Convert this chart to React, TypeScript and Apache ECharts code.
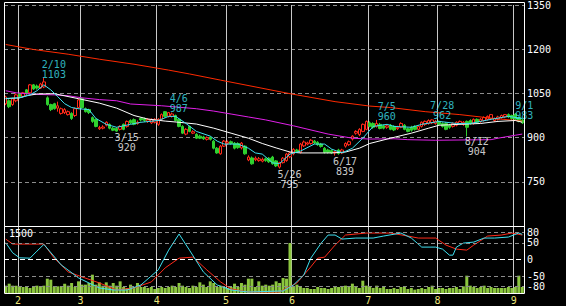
import React, { useEffect, useRef } from 'react';
import * as echarts from 'echarts';

// ---- categories: trading days per month ----
const monthLabels = ['1', '2', '3', '4', '5', '6', '7', '8', '9'];
const monthDays = [4, 18, 22, 20, 19, 22, 20, 22, 3];

// ---- daily prices ----
const opens = [
  1015, 1025, 1012, 1025, 1049, 1040, 1062, 1052, 1079, 1075,
  1068, 1072, 1035, 1012, 1015, 1000, 982, 985, 978, 982,
  975, 1002, 1032, 998, 995, 968, 962, 930, 932, 942,
  945, 932, 931, 928, 945, 938, 958, 961, 948, 965,
  964, 956, 950, 952, 945, 962, 988, 972, 972, 975,
  962, 938, 912, 938, 915, 911, 905, 902, 894, 900,
  888, 864, 845, 871, 880, 886, 881, 880, 865, 871,
  824, 831, 825, 822, 820, 828, 830, 834, 821, 800,
  815, 822, 835, 845, 858, 850, 872, 878, 880, 888,
  884, 878, 864, 858, 856, 848, 858, 848, 871, 876,
  895, 915, 910, 921, 928, 950, 948, 938, 945, 940,
  935, 942, 938, 930, 935, 942, 930, 935, 938, 928,
  938, 945, 948, 950, 948, 955, 948, 948, 942, 938,
  942, 948, 945, 955, 958, 948, 962, 955, 958, 962,
  965, 958, 962, 968, 970, 978, 975, 980, 968, 960,
];
const closes = [
  1038, 1005, 1032, 1045, 1039, 1052, 1049, 1079, 1065, 1068,
  1082, 1089, 1012, 995, 998, 1008, 998, 995, 988, 965,
  998, 1028, 1002, 988, 985, 955, 938, 934, 936, 952,
  932, 925, 922, 938, 928, 955, 950, 945, 952, 960,
  958, 962, 962, 962, 962, 978, 972, 985, 980, 958,
  938, 915, 928, 921, 920, 898, 898, 896, 900, 894,
  864, 848, 871, 888, 885, 880, 864, 866, 881, 845,
  834, 811, 830, 828, 826, 822, 818, 811, 804, 815,
  830, 844, 848, 860, 852, 878, 885, 882, 891, 882,
  876, 870, 850, 850, 848, 852, 846, 858, 880, 886,
  905, 921, 928, 945, 955, 938, 935, 948, 931, 932,
  940, 928, 926, 935, 948, 928, 921, 925, 928, 938,
  952, 955, 958, 960, 955, 945, 938, 928, 935, 948,
  952, 955, 952, 935, 948, 962, 952, 962, 968, 972,
  978, 965, 970, 975, 978, 970, 965, 962, 955, 950,
];
const lows = [
  1010, 1000, 1008, 1020, 1035, 1037, 1045, 1048, 1062, 1063,
  1065, 1068, 1008, 990, 995, 988, 978, 980, 975, 960,
  970, 998, 998, 985, 980, 950, 935, 926, 928, 938,
  928, 922, 920, 924, 925, 934, 946, 942, 944, 955,
  953, 950, 946, 948, 940, 958, 968, 968, 968, 955,
  935, 912, 908, 918, 912, 895, 895, 892, 890, 890,
  860, 845, 842, 868, 876, 876, 860, 862, 860, 842,
  820, 808, 820, 818, 816, 818, 814, 808, 800, 795,
  812, 818, 830, 840, 848, 846, 868, 874, 876, 878,
  872, 866, 846, 846, 844, 839, 842, 844, 866, 872,
  890, 910, 905, 918, 925, 935, 930, 934, 928, 928,
  930, 925, 922, 926, 932, 925, 918, 920, 924, 925,
  934, 940, 944, 946, 944, 940, 934, 925, 930, 934,
  938, 944, 940, 904, 944, 944, 948, 950, 954, 958,
  960, 954, 958, 964, 966, 966, 960, 958, 952, 946,
];
const highs = [
  1042, 1030, 1035, 1050, 1052, 1055, 1065, 1082, 1082, 1080,
  1086, 1103, 1040, 1015, 1018, 1022, 1002, 1000, 992, 986,
  1002, 1032, 1035, 1002, 998, 972, 965, 940, 942, 955,
  948, 936, 935, 942, 948, 958, 962, 965, 958, 968,
  968, 966, 965, 966, 966, 982, 990, 987, 985, 978,
  965, 942, 932, 940, 925, 915, 910, 906, 904, 904,
  892, 868, 875, 892, 890, 890, 885, 884, 885, 874,
  840, 836, 836, 834, 832, 832, 834, 838, 824, 818,
  834, 848, 852, 864, 862, 882, 890, 886, 895, 892,
  888, 882, 868, 862, 860, 856, 862, 862, 884, 890,
  908, 925, 932, 948, 958, 955, 952, 960, 950, 944,
  944, 946, 942, 940, 952, 946, 934, 940, 942, 942,
  955, 958, 962, 962, 960, 958, 952, 952, 946, 952,
  955, 958, 956, 958, 962, 965, 965, 966, 972, 975,
  980, 968, 974, 978, 980, 982, 978, 983, 972, 964,
];

// ---- volume ----
const volumes = [
  164, 209, 164, 164, 134, 134, 134, 112, 134, 164,
  134, 164, 321, 298, 134, 149, 149, 209, 164, 224,
  134, 261, 187, 187, 224, 410, 187, 239, 164, 239,
  164, 224, 164, 261, 134, 112, 187, 134, 224, 134,
  134, 112, 134, 90, 112, 134, 112, 134, 164, 134,
  224, 164, 134, 112, 164, 134, 239, 187, 134, 261,
  224, 134, 164, 134, 112, 134, 209, 134, 224, 187,
  321, 321, 134, 261, 164, 187, 164, 187, 261, 224,
  336, 320, 1119, 134, 187, 134, 112, 112, 90, 90,
  134, 112, 112, 90, 112, 149, 134, 134, 164, 134,
  209, 134, 112, 276, 164, 134, 112, 164, 112, 134,
  90, 90, 112, 90, 134, 134, 90, 112, 75, 90,
  112, 90, 134, 164, 90, 112, 112, 90, 112, 112,
  134, 90, 149, 388, 164, 134, 112, 134, 164, 112,
  134, 112, 112, 112, 112, 134, 112, 134, 388, 134,
];

// ---- moving averages (day index, price) ----
const maShort = [
  [0, 1033], [4, 1035], [7, 1045], [9, 1059], [11, 1079], [13, 1062], [15, 1039], [17, 1015],
  [19, 1002], [21, 998], [24, 995], [26, 965], [29, 945], [32, 935], [36, 945], [39, 952],
  [44, 958], [47, 972], [49, 972], [52, 948], [55, 921], [59, 905], [61, 888], [63, 878],
  [67, 878], [70, 864], [72, 848], [74, 844], [77, 814], [79, 812], [82, 844], [85, 854],
  [89, 878], [92, 878], [94, 861], [97, 848], [100, 864], [103, 898], [106, 938], [110, 945],
  [112, 938], [117, 935], [120, 945], [125, 955], [130, 948], [134, 948], [140, 962],
  [145, 972], [149, 965],
];
const maMid = [
  [0, 1032], [4, 1035], [6, 1042], [9, 1048], [14, 1049], [21, 1032], [27, 1017], [32, 1000],
  [37, 975], [41, 963], [46, 956], [50, 952], [55, 946], [60, 932], [65, 915], [70, 898],
  [74, 880], [78, 865], [82, 851], [85, 848], [94, 848], [98, 851], [102, 864], [105, 880],
  [111, 898], [117, 915], [122, 932], [125, 942], [131, 945], [137, 948], [142, 955],
  [147, 958], [149, 952],
];
const maLong = [
  [0, 1059], [3, 1052], [8, 1047], [14, 1045], [18, 1042], [22, 1035], [27, 1029], [32, 1025],
  [36, 1014], [45, 1008], [55, 998], [60, 990], [65, 980], [70, 970], [75, 960], [83, 940],
  [93, 912], [100, 898], [105, 895], [112, 896], [116, 893], [124, 891], [140, 893],
  [142, 898], [147, 908], [149, 912],
];
const maVeryLong = [
  [0, 1216], [8, 1199], [18, 1183], [27, 1166], [37, 1149], [47, 1129], [53, 1116], [62, 1095],
  [82, 1049], [95, 1022], [105, 1007], [111, 1002], [121, 988], [131, 978], [140, 966],
  [149, 956],
];

// ---- oscillator (lower panel) ----
const oscCyan = [
  [0, 50], [2, 20], [4, 5], [7, 4], [9, 25], [11, 45], [16, -16], [21, -55], [27, -85],
  [31, -91], [35, -91], [39, -76], [44, -31], [47, 28], [50, 76], [53, 28], [57, -37],
  [61, -76], [65, -91], [70, -97], [80, -94], [83, -76], [86, -46], [88, 4], [91, 49],
  [93, 73], [95, 73], [97, 61], [101, 64], [106, 64], [109, 70], [114, 79], [117, 64],
  [120, 37], [124, 37], [126, 31], [128, 13], [129, 13], [130, 37], [132, 49], [135, 52],
  [138, 64], [141, 64], [145, 67], [148, 79], [149, 75],
];
const oscRed = [
  [0, 61], [2, 46], [11, 46], [14, 4], [18, -37], [22, -52], [27, -70], [32, -91], [37, -85],
  [42, -67], [46, -25], [50, 4], [54, 7], [58, -31], [62, -67], [65, -88], [70, -97],
  [75, -97], [79, -97], [84, -70], [88, -22], [90, 4], [92, 7], [95, 43], [98, 73],
  [104, 79], [111, 79], [116, 70], [119, 64], [124, 64], [127, 43], [130, 31], [133, 28],
  [135, 43], [139, 70], [143, 73], [146, 79], [149, 73],
];
const oscTicks = [80, 50, 0, -50, -80];
const volumeMax = 1500;

// ---- annotations ----
const annotIdx = [11, 32, 47, 79, 95, 107, 123, 133, 147];
const annotDate = ['2/10', '3/15', '4/6', '5/26', '6/17', '7/5', '7/28', '8/12', '9/1'];
const annotValue = [1103, 920, 987, 795, 839, 960, 962, 904, 983];
const annotKind = ['high', 'low', 'high', 'low', 'low', 'high', 'high', 'low', 'high'];

const MONO = 'DejaVu Sans Mono';

export default function App() {
  const ref = useRef<HTMLDivElement>(null);

  useEffect(() => {
    document.body.style.margin = '0';
    document.body.style.background = '#000';
    if (!ref.current) return;
    const chart = echarts.init(ref.current, undefined, { renderer: 'svg' });

    const categories: string[] = [];
    const monthStart: boolean[] = [];
    monthLabels.forEach((m, mi) => {
      for (let d = 0; d < monthDays[mi]; d++) {
        categories.push(`${m}-${d + 1}`);
        monthStart.push(d === 0 && mi > 0);
      }
    });
    const lastIdx = categories.length - 1;
    const candles = opens.map((o, i) => [o, closes[i], lows[i], highs[i]]);
    const mkAnnot = (kind: string) =>
      annotIdx
        .map((idx, k) => ({ idx, k }))
        .filter(({ k }) => annotKind[k] === kind)
        .map(({ idx, k }) => {
          const item: any = { value: [idx, annotValue[k]], name: annotDate[k] };
          // the label next to the right edge sits lower so it clears the axis label
          if (kind === 'high' && lastIdx - idx < 4) item.label = { offset: [9, 8] };
          return item;
        });

    const splitLine = {
      show: true,
      interval: (i: number) => monthStart[i],
      lineStyle: { color: '#c8c8c8', width: 1 },
    };
    const lineCommon = { type: 'line', symbol: 'none', silent: true, z: 3 };

    chart.setOption({
      animation: false,
      backgroundColor: '#000',
      grid: [
        { left: 4, top: 2, width: 520, height: 224, show: false },
        { left: 4, top: 226, width: 520, height: 67, show: false },
      ],
      xAxis: [
        {
          type: 'category', gridIndex: 0, data: categories, boundaryGap: true,
          axisLine: { show: false }, axisTick: { show: false }, axisLabel: { show: false },
          splitLine,
        },
        {
          type: 'category', gridIndex: 1, data: categories, boundaryGap: true,
          axisLine: { show: false }, axisTick: { show: false },
          axisLabel: {
            show: true, interval: (i: number) => monthStart[i],
            formatter: (v: string) => v.split('-')[0],
            color: '#eee77a', fontSize: 10, fontFamily: MONO, margin: 2, padding: [0, 3, 0, 0],
          },
          splitLine,
        },
      ],
      yAxis: [
        {
          type: 'value', gridIndex: 0, position: 'right', min: 600, max: 1350, interval: 150,
          axisLine: { show: false }, axisTick: { show: false },
          axisLabel: {
            color: '#fff', fontSize: 10, fontFamily: MONO, margin: 3, padding: [5, 0, 0, 0],
            formatter: (v: number) => (v === 600 ? '' : String(v)),
          },
          splitLine: { show: true, lineStyle: { color: '#8c8c8c', type: [4, 3], width: 1 } },
        },
        {
          type: 'value', gridIndex: 1, position: 'right', min: -100, max: 100, interval: 10,
          axisLine: { show: false }, axisTick: { show: false },
          axisLabel: {
            color: '#fff', fontSize: 10, fontFamily: MONO, margin: 3,
            formatter: (v: number) => (oscTicks.includes(v) ? String(v) : ''),
          },
          splitLine: { show: false },
        },
        { type: 'value', gridIndex: 1, min: 0, max: volumeMax, show: false },
      ],
      graphic: [
        {
          type: 'rect', z: 100, silent: true,
          shape: { x: 4.5, y: 2.5, width: 520, height: 224 },
          style: { fill: 'none', stroke: '#fff', lineWidth: 1 },
        },
        {
          type: 'rect', z: 100, silent: true,
          shape: { x: 4.5, y: 226.5, width: 520, height: 67 },
          style: { fill: 'none', stroke: '#fff', lineWidth: 1 },
        },
        {
          type: 'text', z: 100, silent: true, left: 9, top: 228,
          style: { text: String(volumeMax), fill: '#fff', font: `10px "${MONO}"` },
        },
      ],
      series: [
        {
          type: 'candlestick', xAxisIndex: 0, yAxisIndex: 0, data: candles, barWidth: 3,
          silent: true, z: 2,
          itemStyle: {
            color: '#000', color0: '#2fd02f', borderColor: '#ff2a1a', borderColor0: '#2fd02f',
            borderWidth: 1,
          },
        },
        { ...lineCommon, xAxisIndex: 0, yAxisIndex: 0, data: maVeryLong, lineStyle: { color: '#ff2a00', width: 1 } },
        { ...lineCommon, xAxisIndex: 0, yAxisIndex: 0, data: maLong, lineStyle: { color: '#e020e8', width: 1 } },
        { ...lineCommon, xAxisIndex: 0, yAxisIndex: 0, data: maMid, lineStyle: { color: '#ffffff', width: 1 } },
        { ...lineCommon, xAxisIndex: 0, yAxisIndex: 0, data: maShort, lineStyle: { color: '#3ee0f0', width: 1 } },
        {
          type: 'scatter', xAxisIndex: 0, yAxisIndex: 0, data: mkAnnot('high'), symbolSize: 1,
          itemStyle: { color: 'rgba(0,0,0,0)' }, silent: true, z: 10,
          label: {
            show: true, position: 'top', distance: 0, offset: [10, 2],
            formatter: (p: any) => `${p.name}\n${p.value[1]}`,
            color: '#3ee0f0', fontSize: 10, fontFamily: MONO, lineHeight: 10, align: 'center',
          },
        },
        {
          type: 'scatter', xAxisIndex: 0, yAxisIndex: 0, data: mkAnnot('low'), symbolSize: 1,
          itemStyle: { color: 'rgba(0,0,0,0)' }, silent: true, z: 10,
          label: {
            show: true, position: 'bottom', distance: 0, offset: [10, 0],
            formatter: (p: any) => `${p.name}\n${p.value[1]}`,
            color: '#ffffff', fontSize: 10, fontFamily: MONO, lineHeight: 10, align: 'center',
          },
        },
        {
          type: 'bar', xAxisIndex: 1, yAxisIndex: 2, data: volumes, barWidth: 3, silent: true,
          itemStyle: { color: '#8cc63f' }, z: 2,
        },
        {
          ...lineCommon, xAxisIndex: 1, yAxisIndex: 1, data: oscRed,
          lineStyle: { color: '#ff2a1a', width: 1 },
          markLine: {
            silent: true, symbol: 'none', label: { show: false },
            lineStyle: { color: '#8c8c8c', type: [4, 3], width: 1 },
            data: oscTicks.map((t) => ({
              yAxis: t,
              lineStyle: t === 0 ? { color: '#ffffff', type: [5, 3], width: 1 } : { color: '#8c8c8c', type: [4, 3], width: 1 },
            })),
          },
        },
        { ...lineCommon, xAxisIndex: 1, yAxisIndex: 1, data: oscCyan, lineStyle: { color: '#3ee0f0', width: 1 } },
      ],
    });
    return () => chart.dispose();
  }, []);

  return <div ref={ref} style={{ width: 566, height: 306, background: '#000' }} />;
}
